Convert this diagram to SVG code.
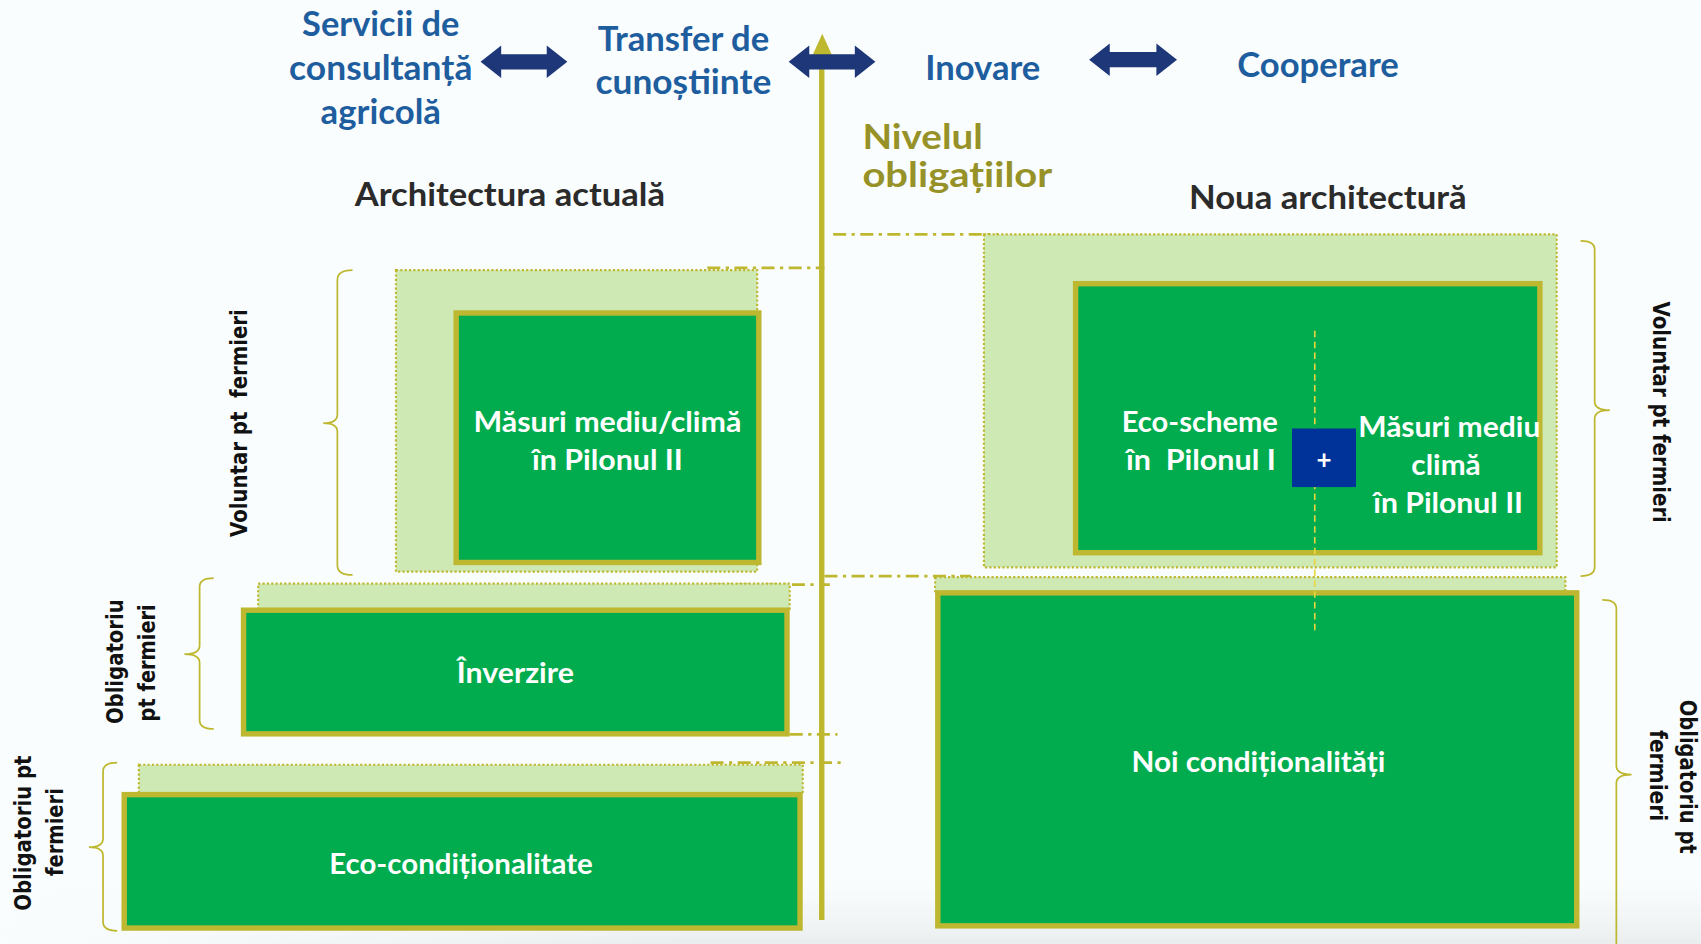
<svg xmlns="http://www.w3.org/2000/svg" width="1701" height="944" viewBox="0 0 1701 944">
<defs>
<style>
.blue{font-family:Lato,"Open Sans",sans-serif;font-weight:bold;font-size:31px;fill:#1E5E9F;text-anchor:middle}
.olivet{font-family:Lato,"Open Sans",sans-serif;font-weight:bold;font-size:31px;fill:#969228}
.head{font-family:Lato,"Open Sans",sans-serif;font-weight:bold;font-size:30.5px;fill:#2B2B2B;text-anchor:middle}
.wt{font-family:Lato,"Open Sans",sans-serif;font-weight:bold;font-size:26.5px;fill:#FFFFFF;text-anchor:middle}
.rot{font-family:"DejaVu Sans",Verdana,sans-serif;font-weight:bold;font-size:21px;fill:#111111;text-anchor:middle}
.light{fill:#CFE9B5;stroke:#BEB831;stroke-width:2;stroke-dasharray:2 2}
.green{fill:#00AC4E;stroke:#BEB831;stroke-width:5}
.brace{fill:none;stroke:#BEB831;stroke-width:1.6}
.dd{fill:none;stroke:#BEB831;stroke-width:2.5;stroke-dasharray:12 5 3 5}
.darr{fill:#1D3779}
</style>
<linearGradient id="fog" x1="0" y1="0" x2="0" y2="1">
<stop offset="0" stop-color="#E8ECEC" stop-opacity="0"/>
<stop offset="1" stop-color="#E3E7E6" stop-opacity="0.7"/>
</linearGradient>
<linearGradient id="fogh" x1="0" y1="0" x2="1" y2="0">
<stop offset="0" stop-color="#FFFFFF" stop-opacity="0"/>
<stop offset="0.4" stop-color="#FFFFFF" stop-opacity="1"/>
<stop offset="1" stop-color="#FFFFFF" stop-opacity="1"/>
</linearGradient>
<mask id="fogmask"><rect x="0" y="0" width="1568" height="871" fill="url(#fogh)"/></mask>
</defs>
<rect x="0" y="0" width="1701" height="944" fill="#FAFDFE"/>
<g transform="scale(1.0848)">
<rect x="0" y="815" width="1568" height="56" fill="url(#fog)" mask="url(#fogmask)"/>

<g id="top-labels">
<text class="blue" x="351" y="33" textLength="145" lengthAdjust="spacingAndGlyphs">Servicii de</text>
<text class="blue" x="351" y="74" textLength="169" lengthAdjust="spacingAndGlyphs">consultanță</text>
<text class="blue" x="351" y="114" textLength="111" lengthAdjust="spacingAndGlyphs">agricolă</text>
<text class="blue" x="630" y="47" textLength="158" lengthAdjust="spacingAndGlyphs">Transfer de</text>
<text class="blue" x="630" y="87" textLength="162" lengthAdjust="spacingAndGlyphs">cunoștiinte</text>
<text class="blue" x="906" y="74" textLength="106" lengthAdjust="spacingAndGlyphs">Inovare</text>
<text class="blue" x="1215" y="71" textLength="149" lengthAdjust="spacingAndGlyphs">Cooperare</text>
</g>

<g id="axis">
<line x1="757.5" y1="46" x2="757.5" y2="848" stroke="#BEB831" stroke-width="5"/>
<polygon points="758,31 749,51 767,51" fill="#BEB831"/>
</g>

<g id="connectors">
<path class="darr" d="M443,57 L462,42 L462,50 L504,50 L504,42 L523,57 L504,72 L504,64 L462,64 L462,72 Z"/>
<path class="darr" d="M727,57 L746,42 L746,50 L788,50 L788,42 L807,57 L788,72 L788,64 L746,64 L746,72 Z"/>
<path class="darr" d="M1004,55 L1023,40 L1023,48 L1066,48 L1066,40 L1085,55 L1066,70 L1066,62 L1023,62 L1023,70 Z"/>
<path class="dd" d="M652,247 H760"/>
<path class="dd" d="M768,216 H920"/>
<path class="dd" d="M655,539 H765"/>
<path class="dd" d="M760,531 H895"/>
<path class="dd" d="M728,677 H772"/>
<path class="dd" d="M655,703 H776"/>
<path class="brace" d="M325,249 Q311,249 311,258 L311,382 Q311,390 298,390 Q311,390 311,398 L311,521 Q311,530 325,530"/>
<path class="brace" d="M197,533 Q184,533 184,541 L184,595 Q184,603 170,603 Q184,603 184,611 L184,664 Q184,672 197,672"/>
<path class="brace" d="M108,703 Q95,703 95,711 L95,773 Q95,781 82,781 Q95,781 95,789 L95,850 Q95,858 108,858"/>
<path class="brace" d="M1457,222 Q1470,222 1470,230 L1470,370 Q1470,378 1484,378 Q1470,378 1470,386 L1470,523 Q1470,531 1457,531"/>
<path class="brace" d="M1477,553 Q1490,553 1490,561 L1490,706 Q1490,714 1504,714 Q1490,714 1490,722 L1490,880"/>
</g>

<g id="headings">
<text class="head" x="470" y="190" textLength="286" lengthAdjust="spacingAndGlyphs">Architectura actuală</text>
<text class="head" x="1224" y="193" textLength="256" lengthAdjust="spacingAndGlyphs">Noua architectură</text>
<text class="olivet" x="795" y="137" textLength="111" lengthAdjust="spacingAndGlyphs">Nivelul</text>
<text class="olivet" x="795" y="172" textLength="175" lengthAdjust="spacingAndGlyphs">obligațiilor</text>
</g>

<g id="side-labels">
<text class="rot" xml:space="preserve" transform="translate(228,390) rotate(-90)" textLength="210" lengthAdjust="spacingAndGlyphs">Voluntar pt  fermieri</text>
<text class="rot" transform="translate(113,610) rotate(-90)" textLength="115" lengthAdjust="spacingAndGlyphs">Obligatoriu</text>
<text class="rot" transform="translate(143,611) rotate(-90)" textLength="108" lengthAdjust="spacingAndGlyphs">pt fermieri</text>
<text class="rot" transform="translate(29,768) rotate(-90)" textLength="143" lengthAdjust="spacingAndGlyphs">Obligatoriu pt</text>
<text class="rot" transform="translate(58,767) rotate(-90)" textLength="81" lengthAdjust="spacingAndGlyphs">fermieri</text>
<text class="rot" transform="translate(1524,380) rotate(90)" textLength="204" lengthAdjust="spacingAndGlyphs">Voluntar pt fermieri</text>
<text class="rot" transform="translate(1549,716) rotate(90)" textLength="142" lengthAdjust="spacingAndGlyphs">Obligatoriu pt</text>
<text class="rot" transform="translate(1521,715) rotate(90)" textLength="84" lengthAdjust="spacingAndGlyphs">fermieri</text>
</g>

<g id="node-masuri-p2">
<rect class="light" x="365" y="249" width="333" height="278"/>
<rect class="green" x="420.5" y="288.5" width="279" height="230"/>
<text class="wt" x="560" y="398" textLength="247" lengthAdjust="spacingAndGlyphs">Măsuri mediu/climă</text>
<text class="wt" x="560" y="433" textLength="139" lengthAdjust="spacingAndGlyphs">în Pilonul II</text>
</g>

<g id="node-inverzire">
<rect class="light" x="238" y="538" width="490" height="24"/>
<rect class="green" x="224.5" y="562.5" width="501" height="114"/>
<text class="wt" x="475" y="630" textLength="108" lengthAdjust="spacingAndGlyphs">Înverzire</text>
</g>

<g id="node-eco-conditionalitate">
<rect class="light" x="128" y="705" width="612" height="27"/>
<rect class="green" x="114.5" y="732.5" width="623" height="123"/>
<text class="wt" x="425" y="806" textLength="243" lengthAdjust="spacingAndGlyphs">Eco-condiționalitate</text>
</g>

<g id="node-noi-conditionalitati">
<rect class="light" x="862" y="532" width="581" height="14"/>
<rect class="green" x="864.5" y="546.5" width="589" height="307"/>
<text class="wt" x="1160" y="712" textLength="234" lengthAdjust="spacingAndGlyphs">Noi condiționalități</text>
</g>

<g id="node-eco-scheme">
<rect class="light" x="907" y="216" width="528" height="307"/>
<rect class="green" x="991.5" y="261.5" width="428" height="248"/>
<text class="wt" x="1106" y="398" textLength="144" lengthAdjust="spacingAndGlyphs">Eco-scheme</text>
<text class="wt" x="1107" y="433" textLength="138" lengthAdjust="spacingAndGlyphs" xml:space="preserve">în  Pilonul I</text>
<text class="wt" x="1336" y="403" textLength="168" lengthAdjust="spacingAndGlyphs">Măsuri mediu</text>
<text class="wt" x="1333" y="438" textLength="64" lengthAdjust="spacingAndGlyphs">climă</text>
<text class="wt" x="1335" y="473" textLength="138" lengthAdjust="spacingAndGlyphs">în Pilonul II</text>
</g>

<g id="divider">
<line x1="1212" y1="305" x2="1212" y2="585" stroke="#E6D640" stroke-width="1.5" stroke-dasharray="6 4"/>
</g>

<g id="node-plus">
<rect x="1191" y="395" width="59" height="54" fill="#003399"/>
<text x="1220.5" y="432" font-family="Lato,'Open Sans',sans-serif" font-weight="bold" font-size="24" fill="#FFFFFF" text-anchor="middle">+</text>
</g>
</g>
</svg>
